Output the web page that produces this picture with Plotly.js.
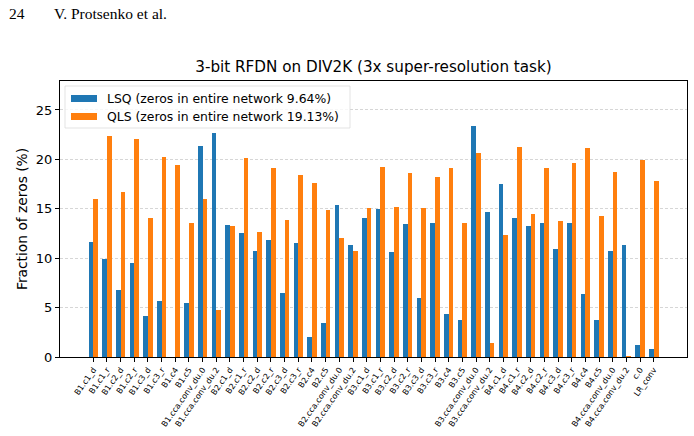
<!DOCTYPE html>
<html>
<head>
<meta charset="utf-8">
<script src="https://cdn.plot.ly/plotly-3.0.1.min.js"></script>
<style>
  html, body { margin: 0; padding: 0; background: #fff; }
  #chart { width: 694px; height: 436px; }
</style>
</head>
<body>
<div id="chart"></div>
<script>
// Layer names (x-axis tick labels)
const layers = [
  "B1.c1_d", "B1.c1_r", "B1.c2_d", "B1.c2_r", "B1.c3_d", "B1.c3_r", "B1.c4", "B1.c5", "B1.cca.conv_du.0", "B1.cca.conv_du.2",
  "B2.c1_d", "B2.c1_r", "B2.c2_d", "B2.c2_r", "B2.c3_d", "B2.c3_r", "B2.c4", "B2.c5", "B2.cca.conv_du.0", "B2.cca.conv_du.2",
  "B3.c1_d", "B3.c1_r", "B3.c2_d", "B3.c2_r", "B3.c3_d", "B3.c3_r", "B3.c4", "B3.c5", "B3.cca.conv_du.0", "B3.cca.conv_du.2",
  "B4.c1_d", "B4.c1_r", "B4.c2_d", "B4.c2_r", "B4.c3_d", "B4.c3_r", "B4.c4", "B4.c5", "B4.cca.conv_du.0", "B4.cca.conv_du.2",
  "c.0", "LR_conv"
];

// Fraction of zero weights per layer (%)
const lsqZeros = [
  11.62, 9.90, 6.76, 9.49, 4.12, 5.64, 0.0, 5.44, 21.35, 22.67,
  13.34, 12.53, 10.71, 11.82, 6.45, 11.52, 1.99, 3.41, 15.37, 11.32,
  14.05, 14.97, 10.61, 13.45, 5.95, 13.55, 4.32, 3.72, 23.38, 14.66,
  17.50, 14.05, 13.24, 13.55, 10.91, 13.55, 6.35, 3.72, 10.71, 11.32,
  1.18, 0.78
];
const qlsZeros = [
  16.01, 22.36, 16.69, 22.06, 14.05, 20.24, 19.43, 13.55, 16.01, 4.73,
  13.24, 20.14, 12.64, 19.12, 13.85, 18.41, 17.60, 14.86, 12.03, 10.71,
  15.07, 19.22, 15.17, 18.61, 15.07, 18.21, 19.12, 13.55, 20.64, 1.39,
  12.33, 21.25, 14.46, 19.12, 13.75, 19.63, 21.15, 14.26, 18.72, 0.08,
  19.93, 17.80
];

const seriesNames = [
  "LSQ (zeros in entire network 9.64%)",
  "QLS (zeros in entire network 19.13%)"
];
const seriesColors = ["#1f77b4", "#ff7f0e"];

const idx = layers.map((_, i) => i);
const barW = 0.35;

const traces = [
  {
    type: "bar", name: seriesNames[0], x: idx, y: lsqZeros,
    width: barW, offset: -barW,
    marker: { color: seriesColors[0], line: { width: 0 } },
    showlegend: false
  },
  {
    type: "bar", name: seriesNames[1], x: idx, y: qlsZeros,
    width: barW, offset: 0,
    marker: { color: seriesColors[1], line: { width: 0 } },
    showlegend: false
  }
];

// plot area in pixels: left 60, right 687, top 81, bottom 357
const L = 60, R = 687, T = 81, B = 357;
const px = x => (x - L) / (R - L);
const py = y => (B - y) / (B - T);

const font = "DejaVu Sans, sans-serif";

// Legend box drawn by hand (wide flat patches, semi-opaque frame)
const shapes = [
  {
    type: "rect", xref: "paper", yref: "paper", layer: "above",
    x0: px(65), x1: px(350), y0: py(128), y1: py(86),
    fillcolor: "rgba(255,255,255,0.8)",
    line: { color: "rgba(220,220,220,0.8)", width: 1 }
  },
  {
    type: "rect", xref: "paper", yref: "paper", layer: "above",
    x0: px(71), x1: px(97), y0: py(102), y1: py(95),
    fillcolor: seriesColors[0], line: { width: 0 }
  },
  {
    type: "rect", xref: "paper", yref: "paper", layer: "above",
    x0: px(71), x1: px(97), y0: py(120), y1: py(113),
    fillcolor: seriesColors[1], line: { width: 0 }
  }
];

const annotations = [
  {
    xref: "paper", yref: "paper", x: px(105), y: py(98.5),
    xanchor: "left", yanchor: "middle", showarrow: false,
    text: seriesNames[0], font: { family: font, size: 12.4, color: "#000" }
  },
  {
    xref: "paper", yref: "paper", x: px(105), y: py(116.5),
    xanchor: "left", yanchor: "middle", showarrow: false,
    text: seriesNames[1], font: { family: font, size: 12.4, color: "#000" }
  },
  // running page header
  {
    xref: "paper", yref: "paper", x: px(7), y: py(13),
    xanchor: "left", yanchor: "middle", showarrow: false,
    text: "24", font: { family: "Liberation Serif, DejaVu Serif, serif", size: 15.5, color: "#000" }
  },
  {
    xref: "paper", yref: "paper", x: px(52), y: py(13),
    xanchor: "left", yanchor: "middle", showarrow: false,
    text: "V. Protsenko et al.", font: { family: "Liberation Serif, DejaVu Serif, serif", size: 15.5, color: "#000" }
  }
];

const layout = {
  width: 694, height: 436,
  margin: { l: L, r: 694 - R, t: T, b: 436 - B, pad: 0 },
  paper_bgcolor: "#fff", plot_bgcolor: "#fff",
  font: { family: font, color: "#000" },
  title: {
    text: "3-bit RFDN on DIV2K (3x super-resolution task)",
    font: { family: font, size: 15.2, color: "#000" },
    x: 0.5, xref: "paper", xanchor: "center",
    y: 1 - 67 / 436, yref: "container", yanchor: "middle"
  },
  xaxis: {
    range: [-2.435, 43.435],
    tickmode: "array", tickvals: idx, ticktext: layers,
    tickangle: -55,
    tickfont: { family: font, size: 8, color: "#000" },
    ticks: "outside", ticklen: 4, tickwidth: 1, tickcolor: "#000",
    showgrid: false, zeroline: false,
    showline: true, mirror: true, linecolor: "#000", linewidth: 1
  },
  yaxis: {
    range: [0, 27.93],
    tickmode: "linear", tick0: 0, dtick: 5,
    tickfont: { family: font, size: 13, color: "#000" },
    ticks: "outside", ticklen: 4, tickwidth: 1, tickcolor: "#000",
    showgrid: true, gridcolor: "#cccccc", gridwidth: 0.8, griddash: "3px,2px",
    zeroline: false,
    showline: true, mirror: true, linecolor: "#000", linewidth: 1,
    title: { text: "Fraction of zeros (%)", font: { family: font, size: 13.8, color: "#000" }, standoff: 5 }
  },
  bargap: 0,
  shapes: shapes,
  annotations: annotations
};

Plotly.newPlot("chart", traces, layout, { displayModeBar: false, staticPlot: true });
</script>
</body>
</html>
